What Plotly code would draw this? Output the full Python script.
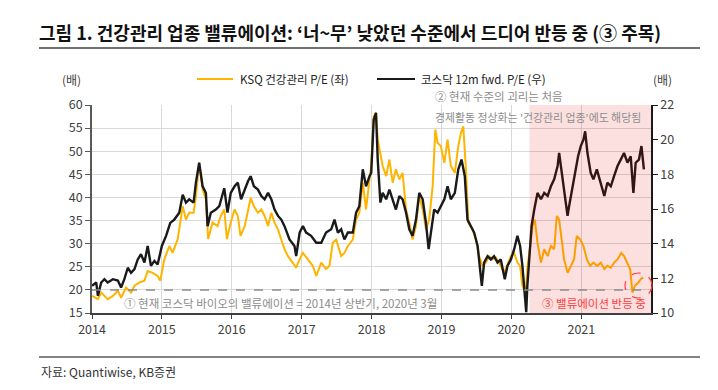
import plotly.graph_objects as go

# ---------------- data ----------------
ksq_dates = [
    "2014-01-01","2014-02-01","2014-02-18","2014-03-24","2014-04-20","2014-05-16","2014-06-02","2014-06-28",
    "2014-07-24","2014-08-11","2014-09-06","2014-10-02","2014-10-19","2014-11-14","2014-12-10","2014-12-24",
    "2015-01-14","2015-02-09","2015-02-26","2015-03-25","2015-04-20","2015-05-07","2015-05-24","2015-06-16",
    "2015-06-28","2015-07-15","2015-08-02","2015-08-19","2015-08-31","2015-09-23","2015-10-19","2015-11-05",
    "2015-11-23","2015-12-07","2015-12-27",
    "2016-01-16","2016-02-02","2016-02-16","2016-03-09","2016-03-26","2016-04-09","2016-04-26","2016-05-17",
    "2016-06-04","2016-06-21","2016-07-09","2016-07-26","2016-08-12","2016-08-30","2016-09-16","2016-10-03",
    "2016-10-21","2016-11-16","2016-12-03","2016-12-21",
    "2017-01-07","2017-02-02","2017-02-28","2017-03-18","2017-04-13","2017-05-08","2017-05-26","2017-06-12",
    "2017-06-30","2017-07-26","2017-08-12","2017-08-30","2017-09-25","2017-10-12","2017-10-29","2017-11-16",
    "2017-12-03","2017-12-21","2017-12-30",
    "2018-01-12","2018-01-24","2018-02-02","2018-02-16","2018-02-28","2018-03-18","2018-04-04","2018-04-21",
    "2018-05-08","2018-05-26","2018-06-12","2018-06-30","2018-07-17","2018-08-03","2018-08-21","2018-09-07",
    "2018-09-25","2018-10-12","2018-10-29","2018-11-16","2018-11-30","2018-12-12","2018-12-29",
    "2019-01-16","2019-02-02","2019-02-19","2019-03-12","2019-03-30","2019-04-13","2019-04-25","2019-05-08",
    "2019-05-22","2019-06-12","2019-06-30","2019-07-17","2019-08-03","2019-08-21","2019-09-07","2019-09-25",
    "2019-10-12","2019-10-29","2019-11-24","2019-12-12","2019-12-30",
    "2020-01-16","2020-02-02","2020-02-16","2020-02-28","2020-03-16","2020-03-26","2020-04-09","2020-04-21",
    "2020-05-03","2020-05-17","2020-06-04","2020-06-21","2020-07-09","2020-07-26","2020-08-12","2020-08-26",
    "2020-09-07","2020-09-19","2020-10-03","2020-10-21","2020-11-07","2020-11-24","2020-12-08","2020-12-26",
    "2021-01-12","2021-01-30","2021-02-16","2021-03-05","2021-03-26","2021-04-13","2021-05-01","2021-05-17",
    "2021-06-04","2021-06-21","2021-07-09","2021-07-29","2021-08-12","2021-08-30","2021-09-13","2021-09-25",
    "2021-10-08","2021-10-26","2021-11-07","2021-11-21",
]
ksq_pe = [
    18.7,18.0,19.4,18.0,18.7,19.8,18.3,20.5,
    19.4,20.9,21.6,22.0,24.1,23.7,23.0,22.0,
    26.6,29.5,28.0,31.0,38.1,35.2,36.7,36.7,
    40.3,47.5,41.7,39.6,31.0,34.6,33.8,36.0,
    37.4,31.0,34.6,
    37.4,36.0,31.7,33.8,37.4,39.9,38.1,36.7,
    37.4,36.0,33.8,36.7,34.5,33.1,30.9,28.8,
    27.3,25.9,24.8,26.6,
    28.0,26.6,25.2,23.0,25.9,24.5,25.2,30.2,
    30.9,27.3,28.0,29.5,30.9,35.2,36.7,43.2,
    37.4,43.9,46.8,
    57.6,58.3,52.5,49.6,46.8,44.6,48.2,43.2,
    46.1,43.9,45.3,37.4,34.5,30.9,33.8,40.3,
    37.4,33.1,35.2,42.4,54.7,51.8,51.1,
    47.5,52.5,46.8,45.3,51.1,54.0,55.4,46.8,
    34.5,33.1,30.9,27.3,25.2,25.9,27.3,26.6,
    27.0,25.9,23.7,25.5,27.3,
    28.0,25.9,25.2,20.9,19.4,25.2,29.5,33.8,
    35.2,30.2,25.9,28.8,27.3,29.5,28.8,36.0,
    35.2,30.9,26.6,23.7,25.2,26.6,31.7,30.9,
    29.5,26.6,25.2,25.9,25.2,25.9,24.5,25.2,
    24.8,25.9,26.6,28.0,27.3,25.9,24.5,19.4,
    20.9,21.6,22.3,22.7,
]

kosdaq_dates = [
    "2014-01-01","2014-01-23","2014-02-01","2014-02-18","2014-03-07","2014-03-24","2014-04-20","2014-05-16",
    "2014-06-02","2014-06-19","2014-07-07","2014-07-24","2014-08-11","2014-08-28","2014-09-14","2014-10-02",
    "2014-10-19","2014-11-05","2014-11-23","2014-12-10",
    "2015-01-01","2015-01-23","2015-02-14","2015-03-07","2015-04-02","2015-04-20","2015-05-07","2015-05-24",
    "2015-06-16","2015-06-28","2015-07-15","2015-08-02","2015-08-19","2015-08-28","2015-09-14","2015-10-10",
    "2015-10-28","2015-11-23","2015-12-10","2015-12-27",
    "2016-01-16","2016-02-02","2016-02-19","2016-03-09","2016-03-26","2016-04-09","2016-04-26","2016-05-17",
    "2016-06-04","2016-06-21","2016-07-09","2016-07-26","2016-08-12","2016-08-30","2016-09-16","2016-10-03",
    "2016-10-29","2016-11-24","2016-12-03","2016-12-21",
    "2017-01-07","2017-01-24","2017-02-19","2017-03-18","2017-04-13","2017-05-08","2017-06-04","2017-06-21",
    "2017-07-09","2017-07-26","2017-08-12","2017-08-30","2017-09-25","2017-10-12","2017-10-29","2017-11-16",
    "2017-12-03","2017-12-21","2017-12-30",
    "2018-01-12","2018-01-24","2018-02-02","2018-02-16","2018-02-28","2018-03-18","2018-04-04","2018-04-21",
    "2018-05-08","2018-05-26","2018-06-12","2018-06-30","2018-07-17","2018-08-03","2018-08-21","2018-09-07",
    "2018-09-25","2018-10-12","2018-10-26","2018-11-07","2018-11-24","2018-12-12","2018-12-29",
    "2019-01-16","2019-02-02","2019-02-19","2019-03-12","2019-03-30","2019-04-16","2019-05-03","2019-05-17",
    "2019-06-04","2019-06-21","2019-07-09","2019-07-22","2019-07-31","2019-08-12","2019-08-30","2019-09-16",
    "2019-10-03","2019-10-21","2019-11-07","2019-11-28","2019-12-12","2019-12-30",
    "2020-01-16","2020-02-02","2020-02-16","2020-02-28","2020-03-19","2020-03-25","2020-04-04","2020-04-16",
    "2020-04-30","2020-05-17","2020-06-04","2020-06-21","2020-07-09","2020-07-26","2020-08-12","2020-08-30",
    "2020-09-07","2020-09-19","2020-10-03","2020-10-21","2020-10-29","2020-11-16","2020-12-03","2020-12-15",
    "2020-12-29",
    "2021-01-12","2021-01-21","2021-02-02","2021-02-19","2021-03-05","2021-03-23","2021-04-13","2021-05-01",
    "2021-05-17","2021-06-04","2021-06-21","2021-07-09","2021-07-26","2021-08-12","2021-08-30","2021-09-16",
    "2021-09-30","2021-10-12","2021-10-29","2021-11-11","2021-11-24",
]
kosdaq_pe = [
    11.57,11.76,10.99,11.76,11.95,11.76,11.95,11.87,
    11.47,11.95,12.61,12.32,12.53,13.09,13.39,12.91,
    13.87,12.72,13.01,12.80,
    13.87,14.45,15.20,15.39,15.79,16.83,16.37,16.56,
    16.37,17.52,18.67,17.31,16.93,15.01,15.79,15.97,
    16.16,17.20,15.79,16.93,
    17.31,17.52,16.56,17.12,17.60,17.89,17.31,17.12,
    16.75,16.56,16.93,16.56,15.97,15.60,15.39,15.01,
    14.24,13.87,13.28,14.64,
    15.01,14.64,14.45,14.05,14.05,14.64,14.83,15.39,
    14.64,14.83,14.24,14.64,14.64,15.79,16.16,18.29,
    17.31,17.89,18.08,
    21.15,21.55,18.85,16.37,16.93,16.56,17.12,16.56,
    15.97,16.75,16.56,15.79,14.83,14.45,15.39,16.93,
    16.56,15.20,13.68,14.64,15.97,15.79,16.16,
    16.56,17.31,16.56,16.93,18.29,18.85,17.89,15.39,
    15.01,14.64,13.87,12.32,11.57,12.91,13.28,13.09,
    13.28,12.91,13.09,11.95,12.72,13.09,
    13.68,14.45,13.87,12.72,10.05,11.57,13.47,15.01,
    15.97,16.93,16.56,16.93,16.75,17.31,17.71,18.48,
    19.23,18.29,17.31,15.60,16.16,17.31,18.48,19.04,
    19.63,
    20.00,20.48,19.23,18.08,17.71,18.29,17.52,16.75,
    17.52,17.31,17.89,18.48,18.85,19.23,18.67,19.04,
    16.93,18.67,18.85,19.63,18.29,
]

left_ticks = [15, 20, 25, 30, 35, 40, 45, 50, 55, 60]
right_ticks = [10, 12, 14, 16, 18, 20, 22]
year_ticks = ["2014-01-01","2015-01-01","2016-01-01","2017-01-01","2018-01-01",
              "2019-01-01","2020-01-01","2021-01-01"]
year_labels = ["2014","2015","2016","2017","2018","2019","2020","2021"]

# ---------------- figure ----------------
FONT = "Noto Sans CJK KR"
TICKC = "#404040"
GRAY_TXT = "#8c8c8c"

fig = go.Figure()
fig.add_trace(go.Scatter(x=ksq_dates, y=ksq_pe, mode="lines", name="KSQ 건강관리 P/E (좌)",
                         line=dict(color="#FFB400", width=2), yaxis="y"))
fig.add_trace(go.Scatter(x=kosdaq_dates, y=kosdaq_pe, mode="lines", name="코스닥 12m fwd. P/E (우)",
                         line=dict(color="#1a1a1a", width=2.4), yaxis="y2"))

# page offset of the figure (browser default body margin)
OFF = 8
# desired plot area in page pixels
PL, PR, PT, PB = 92, 651, 105, 313
W, H = 710, 382
L, T = PL - OFF, PT - OFF
R = OFF + W - PR
B = OFF + H - PB
pw, ph = PR - PL, PB - PT

def px(x):
    return (x - PL) / pw

def py(y):
    return (PB - y) / ph

fig.update_layout(
    width=W, height=H,
    margin=dict(l=L, r=R, t=T, b=B, pad=0),
    paper_bgcolor="white", plot_bgcolor="white",
    showlegend=False,
    font=dict(family=FONT, size=12, color=TICKC),
    xaxis=dict(type="date", range=["2014-01-01", "2021-12-31"],
               tickvals=year_ticks, ticktext=year_labels,
               showgrid=True, gridcolor="#d9d9d9", gridwidth=1,
               showline=True, linecolor="#404040", linewidth=1.5,
               ticks="outside", ticklen=4, tickcolor="#404040",
               tickfont=dict(size=12.5, color=TICKC), zeroline=False),
    yaxis=dict(range=[15, 60], tickvals=left_ticks,
               showgrid=True, gridcolor="#d9d9d9", gridwidth=1,
               showline=True, linecolor="#595959", linewidth=1.5,
               ticks="outside", ticklen=5, tickcolor="#595959",
               tickfont=dict(size=12.5, color=TICKC), zeroline=False),
    yaxis2=dict(range=[10, 22], tickvals=right_ticks, overlaying="y", side="right",
                showgrid=False, showline=True, linecolor="#1a1a1a", linewidth=1.5,
                ticks="outside", ticklen=5, tickcolor="#1a1a1a",
                tickfont=dict(size=12.5, color=TICKC), zeroline=False),
)

shapes = [
    dict(type="rect", xref="x", yref="paper", x0="2020-04-05", x1="2021-12-31", y0=0, y1=1,
         fillcolor="rgba(230,0,0,0.12)", line=dict(width=0), layer="above"),
    dict(type="line", xref="paper", yref="y", x0=0, x1=1, y0=20, y1=20,
         line=dict(color="#8c8c8c", width=1.5, dash="dash")),
    dict(type="circle", xref="paper", yref="paper", x0=px(625), x1=px(652), y0=py(298), y1=py(273),
         line=dict(color="#ff3b3b", width=1.2, dash="dash")),
    dict(type="line", xref="paper", yref="paper", x0=px(197), x1=px(233), y0=py(79), y1=py(79),
         line=dict(color="#FFB400", width=2)),
    dict(type="line", xref="paper", yref="paper", x0=px(377), x1=px(415), y0=py(79), y1=py(79),
         line=dict(color="#1a1a1a", width=2)),
    dict(type="line", xref="paper", yref="paper", x0=px(39), x1=px(700), y0=py(48), y1=py(48),
         line=dict(color="#404040", width=1.5)),
    dict(type="line", xref="paper", yref="paper", x0=px(39), x1=px(700), y0=py(357), y1=py(357),
         line=dict(color="#595959", width=1.5)),
]
fig.update_layout(shapes=shapes)

def ann(text, x, y, size=12, color=TICKC, xanchor="left", bold=False):
    t = f"<b>{text}</b>" if bold else text
    fig.add_annotation(text=t, xref="paper", yref="paper", x=px(x), y=py(y),
                       xanchor=xanchor, yanchor="middle", showarrow=False,
                       font=dict(family=FONT, size=size, color=color))

ann("그림 1. 건강관리 업종 밸류에이션: ‘너~무’ 낮았던 수준에서 드디어 반등 중 (③ 주목)",
    37, 32, size=18, color="#111111", bold=True)
ann("(배)", 71, 79, size=12, xanchor="center")
ann("(배)", 662, 79, size=12, xanchor="center")
ann("KSQ 건강관리 P/E (좌)", 238, 79, size=11.5, color="#222222")
ann("코스닥 12m fwd. P/E (우)", 419, 79, size=11.5, color="#222222")
ann("② 현재 수준의 괴리는 처음", 433, 96, size=11.5, color=GRAY_TXT)
ann("경제활동 정상화는 '건강관리 업종'에도 해당됨", 433, 117, size=10.9, color=GRAY_TXT)
ann("① 현재 코스닥 바이오의 밸류에이션 = 2014년 상반기, 2020년 3월", 122, 303, size=11.5, color=GRAY_TXT)
ann("③ 밸류에이션 반등 중", 540, 303, size=11.5, color="#ff3b3b")
ann("자료: Quantiwise, KB증권", 39, 371, size=12, color="#333333")

fig.write_html("out.html")
